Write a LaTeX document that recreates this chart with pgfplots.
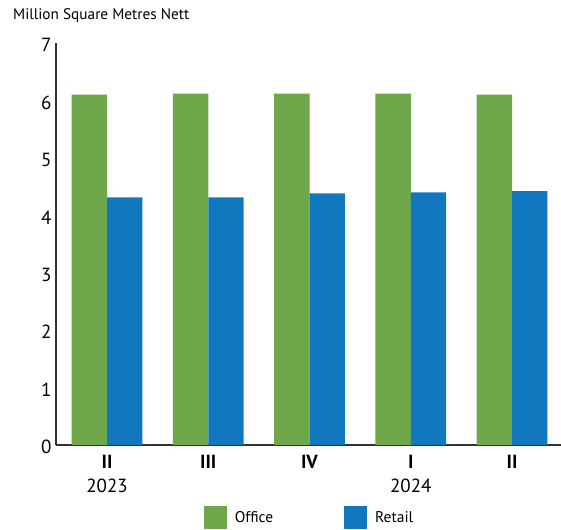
\documentclass[border=0pt]{standalone}
\usepackage{pgfplots}
\pgfplotsset{compat=1.18}
\usepackage{fontspec}
\setmainfont{PT Sans}
\definecolor{office}{RGB}{110,168,75}
\definecolor{retail}{RGB}{17,120,191}
\begin{document}
\begin{tikzpicture}
\useasboundingbox (-56pt,-84pt) rectangle (505pt,445pt);
\begin{axis}[
  at={(0pt,0pt)}, anchor=south west,
  scale only axis, width=505pt, height=402pt,
  xmin=-0.504, xmax=4.484, ymin=0, ymax=7,
  axis x line=bottom, axis y line=left,
  axis line style={-, line width=1.3pt, color=black!80},
  /pgf/number format/assume math mode=true,
  ytick={0,1,...,7}, xtick={0,1,2,3,4},
  xticklabels={{\textbf{II}\\2023},{\textbf{III}},{\textbf{IV}},{\textbf{I}\\2024},{\textbf{II}}},
  major tick length=0pt,
  xticklabel style={align=center, font=\fontsize{19}{24}\selectfont, anchor=north, yshift=-7pt},
  yticklabel style={font=\fontsize{19}{22}\selectfont, yshift=-2pt, xshift=-1pt},
  ybar, bar width=0.35,
  title={Million Square Metres Nett},
  title style={at={(axis description cs:0,1)}, anchor=base west, xshift=-43pt, yshift=17pt, inner sep=0pt, font=\fontsize{15.3}{18}\selectfont},
  legend columns=2,
  legend image code/.code={\fill[#1] (0pt,-11.5pt) rectangle (23pt,11.5pt);},
  legend style={draw=none, fill=none, at={(axis description cs:0.5,0)}, anchor=center, yshift=-72.5pt, xshift=0pt,
    font=\fontsize{15.5}{18}\selectfont, inner sep=0pt, nodes={inner sep=0pt},
    /tikz/every odd column/.append style={column sep=8pt},
    /tikz/every even column/.append style={column sep=71pt}},
]
\addplot[fill=office, draw=none, bar shift=-0.175] coordinates {(0,6.10) (1,6.12) (2,6.12) (3,6.12) (4,6.10)};
\addplot[fill=retail, draw=none, bar shift=0.175] coordinates {(0,4.31) (1,4.31) (2,4.38) (3,4.40) (4,4.42)};
\legend{Office, Retail}
\end{axis}
\end{tikzpicture}
\end{document}
